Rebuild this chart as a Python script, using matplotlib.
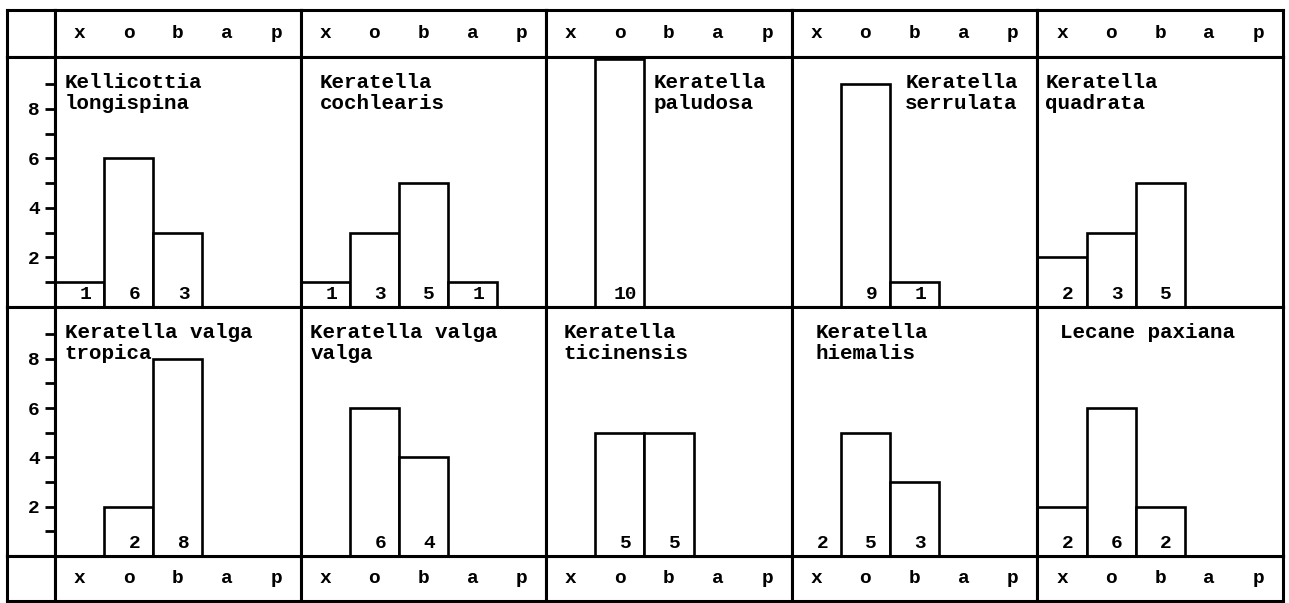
import matplotlib.pyplot as plt

plt.rcParams['font.family'] = ['Liberation Mono', 'DejaVu Sans Mono']
plt.rcParams['font.weight'] = 'bold'

# saprobity classes
categories = ['x', 'o', 'b', 'a', 'p']

# species names (row by row)
species = [
    'Kellicottia\nlongispina', 'Keratella\ncochlearis', 'Keratella\npaludosa',
    'Keratella\nserrulata', 'Keratella\nquadrata',
    'Keratella valga\ntropica', 'Keratella valga\nvalga', 'Keratella\nticinensis',
    'Keratella\nhiemalis', 'Lecane paxiana',
]

# counts per class x, o, b, a, p
kellicottia_longispina = [1, 6, 3, 0, 0]
keratella_cochlearis = [1, 3, 5, 1, 0]
keratella_paludosa = [0, 10, 0, 0, 0]
keratella_serrulata = [0, 9, 1, 0, 0]
keratella_quadrata = [2, 3, 5, 0, 0]
keratella_valga_tropica = [0, 2, 8, 0, 0]
keratella_valga_valga = [0, 6, 4, 0, 0]
keratella_ticinensis = [0, 5, 5, 0, 0]
keratella_hiemalis = [2, 5, 3, 0, 0]
lecane_paxiana = [2, 6, 2, 0, 0]

counts = [kellicottia_longispina, keratella_cochlearis, keratella_paludosa,
          keratella_serrulata, keratella_quadrata, keratella_valga_tropica,
          keratella_valga_valga, keratella_ticinensis, keratella_hiemalis,
          lecane_paxiana]

y_major = [2, 4, 6, 8]
y_minor = [1, 3, 5, 7, 9]

# where the species name starts (x in class units) - layout only
name_x = [-0.3, -0.11, 1.68, 1.81, -0.34, -0.3, -0.3, -0.15, -0.01, -0.05]
# bars the original leaves undrawn (only the number is printed)
no_outline = {(8, 0)}

W, H = 1289, 603
LEFT, COL0, RIGHT = 7, 55, 1283
ROWS = [10, 57, 307, 556, 601]
colw = (RIGHT - COL0) / 5
LW = 2.2
FS = 14

fig = plt.figure(figsize=(W / 100, H / 100), dpi=100)


def box(x0, y0, x1, y1):
    ax = fig.add_axes([x0 / W, 1 - y1 / H, (x1 - x0) / W, (y1 - y0) / H])
    for s in ax.spines.values():
        s.set_linewidth(LW)
        s.set_color('black')
    ax.set_xticks([])
    ax.set_yticks([])
    return ax


# left column cells
for r in range(4):
    box(LEFT, ROWS[r], COL0, ROWS[r + 1])

for c in range(5):
    x0 = COL0 + c * colw
    x1 = x0 + colw
    # header and footer with class letters
    for r in (0, 3):
        ax = box(x0, ROWS[r], x1, ROWS[r + 1])
        ax.set_xlim(-0.5, 4.5)
        ax.set_ylim(0, 1)
        for i, cat in enumerate(categories):
            ax.text(i, 0.5, cat, ha='center', va='center', fontsize=FS)

    # histogram panels
    for r in (1, 2):
        k = (r - 1) * 5 + c
        ax = box(x0, ROWS[r], x1, ROWS[r + 1])
        ax.set_xlim(-0.5, 4.5)
        ax.set_ylim(0, 10.1)
        for i, v in enumerate(counts[k]):
            if v == 0:
                continue
            if (k, i) not in no_outline:
                ax.bar(i, v, width=1, color='white', edgecolor='black',
                       linewidth=1.9)
            ax.text(i + 0.12, 0.5, str(v), ha='center', va='center',
                    fontsize=FS)
        ax.text(name_x[k], 9.45, species[k], ha='left', va='top',
                fontsize=15, linespacing=1.1)
        if c == 0:
            ax.set_yticks(y_major)
            ax.set_yticks(y_minor, minor=True)
            ax.tick_params(which='both', direction='out', length=7, width=2,
                           labelsize=FS, pad=4)
            ax.set_yticklabels([str(t) for t in y_major])

fig.savefig('out.png', dpi=100)
